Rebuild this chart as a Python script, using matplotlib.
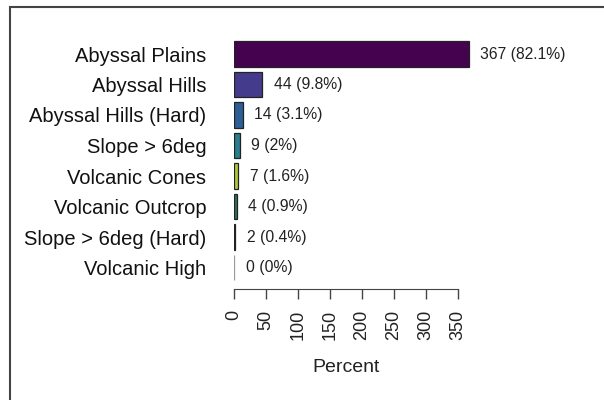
import matplotlib
matplotlib.use("Agg")
import matplotlib.pyplot as plt
from matplotlib.patches import Rectangle

categories = ["Abyssal Plains", "Abyssal Hills", "Abyssal Hills (Hard)", "Slope > 6deg",
              "Volcanic Cones", "Volcanic Outcrop", "Slope > 6deg (Hard)", "Volcanic High"]
counts = [367, 44, 14, 9, 7, 4, 2, 0]
pct_labels = ["82.1%", "9.8%", "3.1%", "2%", "1.6%", "0.9%", "0.4%", "0%"]
xticks = [0, 50, 100, 150, 200, 250, 300, 350]
colors = ["#45024F", "#453B8D", "#2E5E96", "#2A7E8E", "#AEC93C", "#2B7857", "#1A1A1A", "#BBBBBB"]
edges = ["#222222"] * 7 + ["#999999"]

plt.rcParams["font.family"] = ["Liberation Sans", "DejaVu Sans"]

W, H = 604, 400
fig = plt.figure(figsize=(W / 100, H / 100), dpi=100)

# axes geometry in pixels
x0_px, xmax = 234, 400
scale = 0.6395
ax_right = x0_px + xmax * scale
top_px, bot_px = 35.7, 285.8
ax = fig.add_axes([x0_px / W, 1 - bot_px / H, (ax_right - x0_px) / W, (bot_px - top_px) / H])

for s in ["top", "right", "left"]:
    ax.spines[s].set_visible(False)
ax.spines["bottom"].set_position(("outward", 2.5))
ax.spines["bottom"].set_bounds(0, 350)
ax.spines["bottom"].set_color("#444444")

ypos = list(range(len(categories)))
ax.barh(ypos, counts, height=0.85, color=colors, edgecolor=edges, linewidth=0.9)
ax.set_xlim(0, xmax)
ax.set_ylim(len(categories) - 0.4, -0.6)

for y, c, p in zip(ypos, counts, pct_labels):
    ax.text(c + 18, y, f"{c} ({p})", va="center", ha="left", fontsize=11.3, color="#222222")

ax.set_yticks(ypos)
ax.set_yticklabels(categories, fontsize=14.5, color="#111111")
ax.tick_params(axis="y", length=0, pad=20)

ax.set_xticks(xticks)
ax.set_xticklabels([str(t) for t in xticks], fontsize=13, color="#222222")
ax.tick_params(axis="x", length=7, width=1, color="#444444", pad=8, labelrotation=90)

ax.set_xlabel("Percent", fontsize=14, color="#222222")
ax.xaxis.set_label_coords(175 / xmax, (bot_px - 368) / (bot_px - top_px))
ax.xaxis.label.set_va("center")

fig.patches.append(Rectangle((9.5 / W, -0.1), 2, 1.1 - 6.5 / H, transform=fig.transFigure,
                             fill=False, edgecolor="#444444", linewidth=1.5, clip_on=False))

fig.savefig("out.png", dpi=100, facecolor="white")
